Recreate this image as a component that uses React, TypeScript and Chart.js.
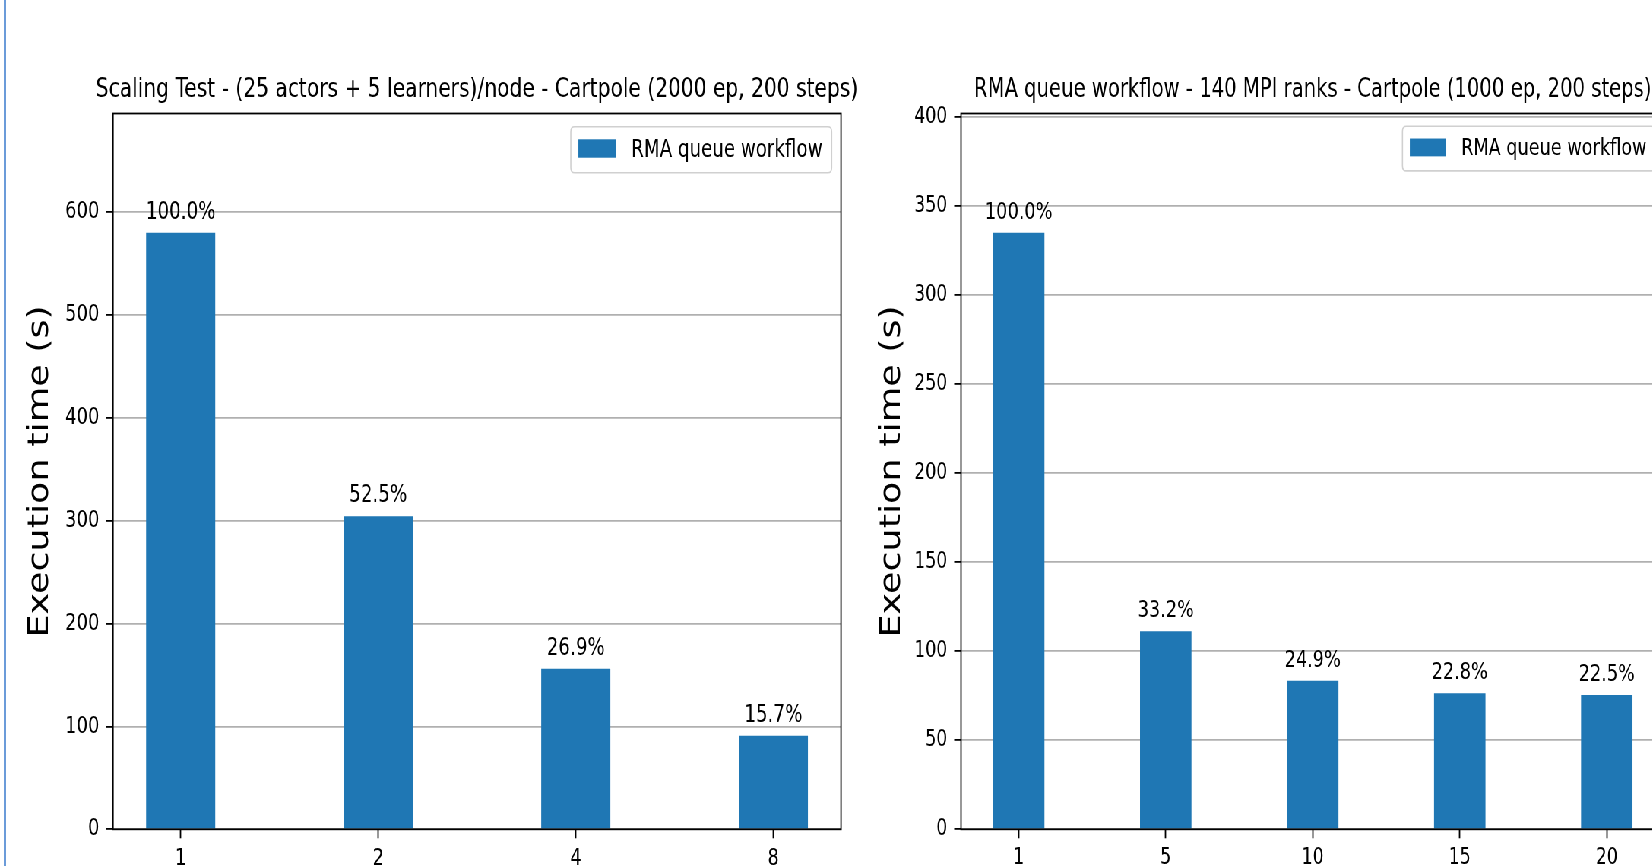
import React, { useEffect, useRef } from 'react';
import { Chart, registerables } from 'chart.js';

Chart.register(...registerables);

// ---------------- data ----------------
const seriesLabel = 'RMA queue workflow';
const yAxisLabel = 'Execution time (s)';

const leftTitle = 'Scaling Test - (25 actors + 5 learners)/node - Cartpole (2000 ep, 200 steps)';
const leftNodes = ['1', '2', '4', '8'];
const leftTimes = [580, 304.5, 156, 91];
const leftPercents = ['100.0%', '52.5%', '26.9%', '15.7%'];
const leftYTicks = [0, 100, 200, 300, 400, 500, 600];
const leftYMax = 696;

const rightTitle = 'RMA queue workflow - 140 MPI ranks - Cartpole (1000 ep, 200 steps)';
const rightRanks = ['1', '5', '10', '15', '20'];
const rightTimes = [335, 111.2, 83.4, 76.4, 75.4];
const rightPercents = ['100.0%', '33.2%', '24.9%', '22.8%', '22.5%'];
const rightYTicks = [0, 50, 100, 150, 200, 250, 300, 350, 400];
const rightYMax = 402;

// ---------------- style / layout ----------------
const SQUISH = 0.76;
const PAGE_W = 1652;
const PAGE_H = 866;
const FONT = 'DejaVu Sans';
const BAR_COLOR = '#1f77b4';
const GRID_COLOR = '#b0b0b0';
const TICK_FS = 23.5;
const LABEL_FS = 24;
const TITLE_FS = 26.6;
const YLABEL_FS = 36.5;
const LEGEND_FS = 24;
const X_AXIS_H = 36.7;
const PLOT_TOP = 113.5;
const TITLE_BASELINE = 97.3;

const leftLayout = { canvasLeft: 0, canvasWidth: 1130, yWidth: 148.7, yTitlePad: 32.1, padRight: 23.4, textScale: 1 };
const rightLayout = { canvasLeft: 1120, canvasWidth: 1100, yWidth: 144.5, yTitlePad: 32.5, padRight: 29.9, textScale: 0.97 };

const framePlugin = {
  id: 'mplFrame',
  afterDraw(chart: any) {
    const { ctx, chartArea: a } = chart;
    ctx.save();
    ctx.strokeStyle = '#000';
    ctx.lineWidth = 1.8;
    ctx.strokeRect(a.left, a.top, a.right - a.left, a.bottom - a.top);
    ctx.restore();
  },
};

const titlePlugin = {
  id: 'mplTitle',
  afterDraw(chart: any, _args: any, opts: any) {
    const { ctx, chartArea: a } = chart;
    ctx.save();
    ctx.font = `${TITLE_FS * opts.scale}px "${FONT}"`;
    ctx.fillStyle = '#000';
    ctx.textAlign = 'center';
    ctx.textBaseline = 'alphabetic';
    ctx.fillText(opts.text, (a.left + a.right) / 2, TITLE_BASELINE);
    ctx.restore();
  },
};

const barLabelPlugin = {
  id: 'barLabels',
  afterDraw(chart: any, _args: any, opts: any) {
    const { ctx } = chart;
    const meta = chart.getDatasetMeta(0);
    ctx.save();
    ctx.font = `${LABEL_FS * opts.scale}px "${FONT}"`;
    ctx.fillStyle = '#000';
    ctx.textAlign = 'center';
    ctx.textBaseline = 'alphabetic';
    meta.data.forEach((el: any, i: number) => {
      ctx.fillText(opts.labels[i], el.x, el.y - 14);
    });
    ctx.restore();
  },
};

const legendPlugin = {
  id: 'mplLegend',
  afterDraw(chart: any, _args: any, opts: any) {
    const { ctx, chartArea } = chart;
    const ds = chart.data.datasets[0];
    const k = opts.scale;
    ctx.save();
    ctx.font = `${LEGEND_FS * k}px "${FONT}"`;
    const tw = ctx.measureText(ds.label).width;
    const padL = 10 * k, sw = 49 * k, sh = 18.4 * k, gap = 20.5 * k, padR = 12 * k, h = 46 * k;
    const w = padL + sw + gap + tw + padR;
    const x = chartArea.right - 12.3 * k - w;
    const y = chartArea.top + 13.2 * k;
    const r = 5;
    ctx.beginPath();
    ctx.moveTo(x + r, y);
    ctx.lineTo(x + w - r, y);
    ctx.quadraticCurveTo(x + w, y, x + w, y + r);
    ctx.lineTo(x + w, y + h - r);
    ctx.quadraticCurveTo(x + w, y + h, x + w - r, y + h);
    ctx.lineTo(x + r, y + h);
    ctx.quadraticCurveTo(x, y + h, x, y + h - r);
    ctx.lineTo(x, y + r);
    ctx.quadraticCurveTo(x, y, x + r, y);
    ctx.closePath();
    ctx.fillStyle = 'rgba(255,255,255,0.8)';
    ctx.fill();
    ctx.strokeStyle = '#d0d0d0';
    ctx.lineWidth = 1.6;
    ctx.stroke();
    ctx.fillStyle = ds.backgroundColor;
    ctx.fillRect(x + padL, y + 12.6 * k, sw, sh);
    ctx.fillStyle = '#000';
    ctx.textAlign = 'left';
    ctx.textBaseline = 'alphabetic';
    ctx.fillText(ds.label, x + padL + sw + gap, y + 30 * k);
    ctx.restore();
  },
};

function makeChart(
  canvas: HTMLCanvasElement,
  title: string,
  cats: string[],
  values: number[],
  percents: string[],
  yTicks: number[],
  yMax: number,
  layout: typeof leftLayout
) {
  const n = cats.length;
  const barW = 0.35;
  const margin = 0.05 * (n - 1 + barW);
  const xMin = -barW / 2 - margin;
  const xMax = n - 1 + barW / 2 + margin;
  const k = layout.textScale;
  return new Chart(canvas, {
    type: 'bar',
    data: {
      datasets: [
        {
          label: seriesLabel,
          data: values.map((v, i) => ({ x: i, y: v })),
          backgroundColor: BAR_COLOR,
          borderWidth: 0,
          barPercentage: barW,
          categoryPercentage: 1,
        },
      ],
    },
    options: {
      animation: false,
      responsive: false,
      maintainAspectRatio: false,
      devicePixelRatio: 1,
      events: [],
      layout: { padding: { left: 0, right: layout.padRight, top: PLOT_TOP, bottom: 0 } },
      plugins: {
        legend: { display: false },
        tooltip: { enabled: false },
        title: { display: false },
        mplTitle: { text: title, scale: k },
        barLabels: { labels: percents, scale: k },
        mplLegend: { scale: k },
      } as any,
      scales: {
        x: {
          type: 'linear',
          bounds: 'data',
          offset: false,
          min: xMin,
          max: xMax,
          afterBuildTicks: (scale: any) => {
            scale.ticks = cats.map((_, i) => ({ value: i }));
          },
          afterFit: (scale: any) => {
            scale.height = X_AXIS_H;
          },
          grid: {
            display: true,
            offset: false,
            drawOnChartArea: false,
            drawTicks: true,
            tickLength: 9,
            tickWidth: 1.8,
            tickColor: '#000',
          },
          border: { display: false },
          ticks: {
            autoSkip: false,
            maxRotation: 0,
            minRotation: 0,
            padding: 6,
            color: '#000',
            font: { family: FONT, size: TICK_FS * k },
            callback: (v: any) => cats[Math.round(Number(v))],
          },
        },
        y: {
          type: 'linear',
          bounds: 'data',
          min: 0,
          max: yMax,
          z: 1,
          afterBuildTicks: (scale: any) => {
            scale.ticks = yTicks.map((v) => ({ value: v }));
          },
          afterFit: (scale: any) => {
            scale.width = layout.yWidth;
          },
          grid: {
            display: true,
            drawOnChartArea: true,
            color: GRID_COLOR,
            lineWidth: 1.8,
            drawTicks: true,
            tickLength: 9,
            tickWidth: 1.8,
            tickColor: '#000',
          },
          border: { display: false },
          ticks: {
            padding: 9,
            color: '#000',
            font: { family: FONT, size: TICK_FS * k },
            callback: (v: any) => String(v),
          },
          title: {
            display: true,
            text: yAxisLabel,
            color: '#000',
            font: { family: FONT, size: YLABEL_FS },
            padding: { top: layout.yTitlePad, bottom: 0 },
          },
        },
      },
    } as any,
    plugins: [framePlugin, titlePlugin, barLabelPlugin, legendPlugin],
  });
}

export default function App() {
  const leftRef = useRef<HTMLCanvasElement>(null);
  const rightRef = useRef<HTMLCanvasElement>(null);

  useEffect(() => {
    document.body.style.margin = '0';
    const a = makeChart(leftRef.current!, leftTitle, leftNodes, leftTimes, leftPercents, leftYTicks, leftYMax, leftLayout);
    const b = makeChart(rightRef.current!, rightTitle, rightRanks, rightTimes, rightPercents, rightYTicks, rightYMax, rightLayout);
    return () => {
      a.destroy();
      b.destroy();
    };
  }, []);

  return (
    <div
      style={{
        position: 'fixed',
        left: 0,
        top: 0,
        width: PAGE_W,
        height: PAGE_H,
        overflow: 'hidden',
        background: '#fff',
      }}
    >
      <div
        style={{
          position: 'absolute',
          left: 0,
          top: 0,
          width: PAGE_W / SQUISH + 100,
          height: PAGE_H,
          transform: `scaleX(${SQUISH})`,
          transformOrigin: '0 0',
        }}
      >
        <canvas
          ref={leftRef}
          width={leftLayout.canvasWidth}
          height={PAGE_H}
          style={{ position: 'absolute', left: leftLayout.canvasLeft, top: 0 }}
        />
        <canvas
          ref={rightRef}
          width={rightLayout.canvasWidth}
          height={PAGE_H}
          style={{ position: 'absolute', left: rightLayout.canvasLeft, top: 0 }}
        />
      </div>
      <div style={{ position: 'absolute', left: 4, top: 0, width: 2, height: PAGE_H, background: '#6b9bd9' }} />
    </div>
  );
}
